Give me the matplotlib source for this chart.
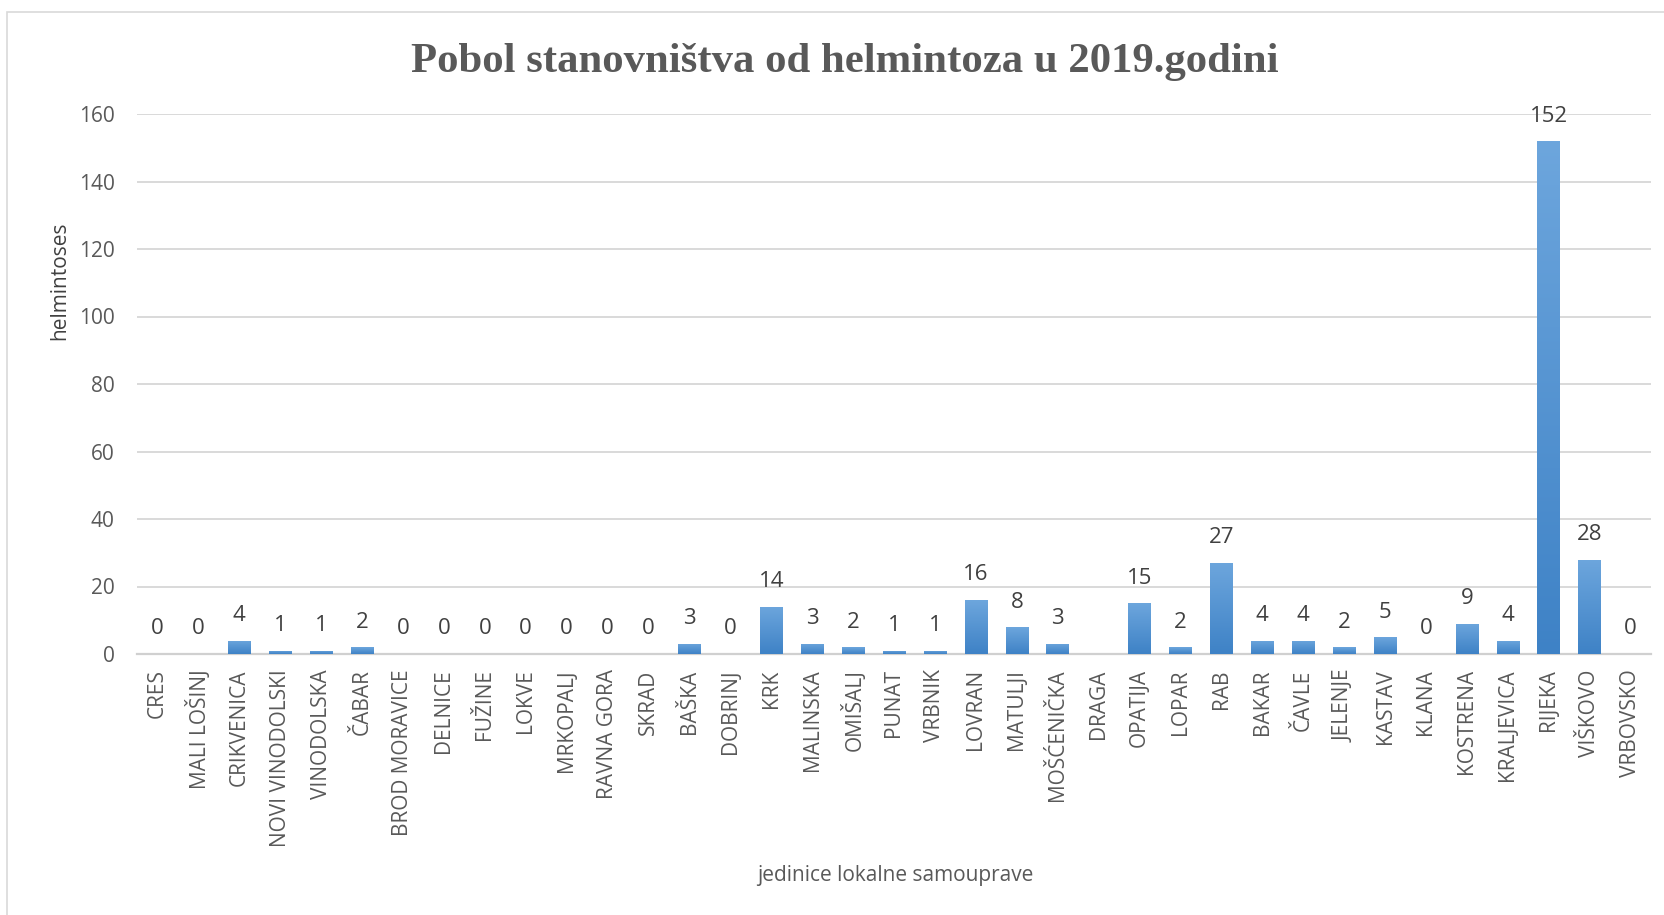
import numpy as np
import matplotlib
matplotlib.use("Agg")
import matplotlib.pyplot as plt
from matplotlib.patches import Rectangle
from matplotlib.colors import LinearSegmentedColormap

categories = ["CRES", "MALI LOŠINJ", "CRIKVENICA", "NOVI VINODOLSKI", "VINODOLSKA", "ČABAR",
              "BROD MORAVICE", "DELNICE", "FUŽINE", "LOKVE", "MRKOPALJ", "RAVNA GORA", "SKRAD",
              "BAŠKA", "DOBRINJ", "KRK", "MALINSKA", "OMIŠALJ", "PUNAT", "VRBNIK", "LOVRAN",
              "MATULJI", "MOŠĆENIČKA", "DRAGA", "OPATIJA", "LOPAR", "RAB", "BAKAR", "ČAVLE",
              "JELENJE", "KASTAV", "KLANA", "KOSTRENA", "KRALJEVICA", "RIJEKA", "VIŠKOVO", "VRBOVSKO"]
values = [0, 0, 4, 1, 1, 2,
          0, 0, 0, 0, 0, 0, 0,
          3, 0, 14, 3, 2, 1, 1, 16,
          8, 3, None, 15, 2, 27, 4, 4,
          2, 5, 0, 9, 4, 152, 28, 0]
yticks = [0, 20, 40, 60, 80, 100, 120, 140, 160]

title = "Pobol stanovništva od helmintoza u 2019.godini"
xlabel = "jedinice lokalne samouprave"
ylabel = "helmintoses"

W, H = 1665, 915
fig = plt.figure(figsize=(W / 100, H / 100), dpi=100)
fig.patch.set_facecolor("white")

# chart border (left and top visible)
fig.patches.append(Rectangle((7 / W, -0.05), 1.2, 1 - 12 / H + 0.05, transform=fig.transFigure,
                             fill=False, edgecolor="#d9d9d9", linewidth=1.2))

left, right = 137 / W, 1651 / W
bottom, top = 1 - 654 / H, 1 - 114 / H
ax = fig.add_axes([left, bottom, right - left, top - bottom])

x = np.arange(len(categories))
vals = np.array([np.nan if v is None else v for v in values], dtype=float)
bars = ax.bar(x, np.nan_to_num(vals), width=0.55, color="#5b9bd5", zorder=3)

# vertical gradient fill for bars
grad = np.linspace(0, 1, 256).reshape(-1, 1)
cmap = LinearSegmentedColormap.from_list("g", ["#3e82c6", "#6da6dd"])
for b, v in zip(bars, vals):
    if np.isnan(v) or v == 0:
        b.set_visible(False)
        continue
    x0, w, h = b.get_x(), b.get_width(), b.get_height()
    im = ax.imshow(grad, extent=[x0, x0 + w, 0, h], origin="lower", cmap=cmap,
                   aspect="auto", zorder=3)
    im.set_clip_path(b)
    b.set_facecolor("none")

ax.set_xlim(-0.5, len(categories) - 0.5)
ax.set_ylim(0, 160)
ax.set_yticks(yticks)
ax.set_xticks(x)
ax.set_xticklabels(categories, rotation=90, fontsize=15, color="#595959", family="Open Sans")
for lab in ax.get_yticklabels():
    lab.set_family("Open Sans")
ax.tick_params(axis="y", labelsize=15, colors="#595959", length=0, pad=16)
ax.tick_params(axis="x", length=0, pad=11, colors="#595959")

ax.grid(axis="y", color="#d9d9d9", linewidth=1.4, zorder=0)
for s in ["top", "right", "left"]:
    ax.spines[s].set_visible(False)
ax.spines["bottom"].set_color("#d0d0d0")
ax.spines["bottom"].set_linewidth(1.6)

for xi, v in zip(x, vals):
    if np.isnan(v):
        continue
    ax.annotate(f"{int(v)}", (xi, v), xytext=(0, 18), textcoords="offset points",
                ha="center", va="center", fontsize=16, color="#404040",
                family="Open Sans", annotation_clip=False)

fig.text(845 / W, 1 - 62 / H, title, ha="center", va="center", fontsize=30.8,
         fontweight="bold", color="#595959", family="Liberation Serif")
fig.text(60 / W, 1 - 281 / H, ylabel, rotation=90, ha="center", va="center",
         fontsize=15, color="#404040", family="Open Sans")
fig.text(895 / W, 1 - 876 / H, xlabel, ha="center", va="center",
         fontsize=15, color="#595959", family="Open Sans")

fig.savefig("out.png", dpi=100)
